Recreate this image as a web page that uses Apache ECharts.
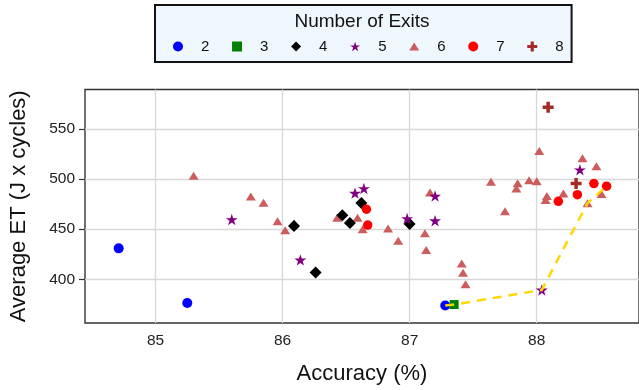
<!DOCTYPE html>
<html>
<head>
<meta charset="utf-8">
<script src="https://cdn.jsdelivr.net/npm/echarts@6/dist/echarts.min.js"></script>
<style>
  html, body { margin: 0; padding: 0; background: #fff; }
  #chart { width: 639px; height: 390px; }
</style>
</head>
<body>
<div id="chart"></div>
<script>
// Accuracy (%) vs. average ET for early-exit configurations, grouped by number of exits.
const exitCounts = ['2', '3', '4', '5', '6', '7', '8'];

const exits2 = [[84.71, 430.9], [85.25, 376.4], [87.28, 373.8]];
const exits3 = [[87.35, 374.8]];
const exits4 = [[86.09, 453.1], [86.26, 406.9], [86.47, 464.0], [86.53, 456.1], [86.62, 476.2], [87.00, 455.1]];
const exits5 = [[85.60, 459.7], [86.14, 419.4], [86.57, 486.0], [86.64, 490.6], [86.98, 460.7],
                [87.20, 483.1], [87.20, 458.5], [88.04, 389.4], [88.34, 509.3]];
const exits6 = [[85.30, 503.4], [85.75, 482.7], [85.85, 476.5], [85.96, 458.0], [86.02, 449.0],
                [86.09, 455.8], [86.43, 461.4], [86.59, 461.4], [86.63, 449.9], [86.83, 450.6],
                [86.91, 438.4], [87.12, 446.0], [87.13, 429.2], [87.16, 486.6], [87.41, 415.7],
                [87.42, 406.6], [87.44, 395.0], [87.64, 497.4], [87.75, 467.9], [87.85, 495.9],
                [87.84, 490.6], [87.94, 498.8], [88.00, 497.8], [88.02, 528.0], [88.08, 483.1],
                [88.07, 479.1], [88.21, 485.6], [88.36, 520.8], [88.47, 512.9], [88.40, 476.0],
                [88.51, 485.0]];
const exits7 = [[86.66, 469.9], [86.67, 454.1], [88.17, 477.8], [88.32, 484.4], [88.45, 495.5], [88.55, 492.9]];
const exits8 = [[88.09, 571.6], [88.31, 495.5]];

// Pareto front through the best trade-off configurations
const paretoFront = [[87.28, 373.8], [87.35, 374.8], [88.04, 389.4], [88.40, 476.0], [88.55, 492.9]];

const xTicks = [85, 86, 87, 88];
const yTicks = [400, 450, 500, 550];

const FONT = 'Liberation Sans, Arial, Helvetica, sans-serif';
const STAR = 'path://M50 0 L61.23 34.55 L97.55 34.55 L68.17 55.9 L79.39 90.45 L50 69.1 L20.61 90.45 L31.83 55.9 L2.45 34.55 L38.77 34.55 Z';
const CROSS = 'path://M34 0 H66 V34 H100 V66 H66 V100 H34 V66 H0 V34 H34 Z';
const TRI = 'path://M50 0 L100 80 L0 80 Z';

function scatter(name, data, symbol, size, color, z) {
  return {
    name: name,
    type: 'scatter',
    data: data,
    symbol: symbol,
    symbolSize: size,
    symbolKeepAspect: true,
    itemStyle: { color: color, opacity: 1 },
    z: z,
    emphasis: { disabled: true }
  };
}

const chart = echarts.init(document.getElementById('chart'), null, { renderer: 'canvas' });

chart.setOption({
  animation: false,
  backgroundColor: '#ffffff',
  textStyle: { fontFamily: FONT },
  grid: {
    left: 83, top: 89.5, right: -2, bottom: 64,
    show: true, borderColor: '#333', borderWidth: 1.4, backgroundColor: 'transparent'
  },
  graphic: [{
    type: 'text',
    x: 362, y: 22, z: 100,
    style: {
      text: 'Number of Exits', fontSize: 19, fontFamily: FONT, fill: '#111',
      align: 'center', verticalAlign: 'middle'
    }
  }],
  legend: {
    data: exitCounts,
    orient: 'horizontal',
    left: 155, top: 5,
    padding: [34, 8, 8, 18],
    itemWidth: 10, itemHeight: 10,
    itemGap: 22.7,
    backgroundColor: '#eef6fe',
    borderColor: '#111', borderWidth: 2,
    selectedMode: false,
    textStyle: { fontSize: 15, color: '#111', fontFamily: FONT, padding: [0, 0, 0, 13] }
  },
  xAxis: {
    type: 'value',
    min: 84.445, max: 88.805,
    name: 'Accuracy (%)',
    nameLocation: 'middle',
    nameGap: 40,
    nameTextStyle: { fontSize: 22, color: '#111', fontFamily: FONT },
    axisLine: { show: false },
    axisTick: { show: false, customValues: xTicks },
    axisLabel: { customValues: xTicks, fontSize: 15.5, color: '#222', margin: 10, fontFamily: FONT },
    splitLine: { show: true, lineStyle: { color: '#d8d8d8', width: 1.3 } }
  },
  yAxis: {
    type: 'value',
    min: 356.4, max: 589.4,
    name: 'Average ET (J x cycles)',
    nameLocation: 'middle',
    nameGap: 55,
    nameTextStyle: { fontSize: 22, color: '#111', fontFamily: FONT },
    axisLine: { show: false },
    axisTick: { show: true, length: 6, customValues: yTicks, lineStyle: { color: '#333', width: 1.2 } },
    axisLabel: { customValues: yTicks, fontSize: 15.5, color: '#222', margin: 10, fontFamily: FONT },
    splitLine: { show: true, lineStyle: { color: '#d8d8d8', width: 1.3 } }
  },
  series: [
    scatter('6', exits6, TRI, 10, '#cd5c5c', 2),
    scatter('4', exits4, 'diamond', 12, '#000000', 3),
    scatter('5', exits5, STAR, 12, '#800080', 4),
    scatter('7', exits7, 'circle', 9.5, '#ff0000', 5),
    scatter('2', exits2, 'circle', 10, '#0000ff', 6),
    scatter('3', exits3, 'rect', 9, '#008000', 7),
    scatter('8', exits8, CROSS, 11, '#a52a2a', 8),
    {
      name: 'Pareto',
      type: 'line',
      data: paretoFront,
      symbol: 'none',
      z: 10,
      lineStyle: { color: '#ffd700', width: 2.5, type: [9, 7] },
      emphasis: { disabled: true }
    }
  ]
});
</script>
</body>
</html>
